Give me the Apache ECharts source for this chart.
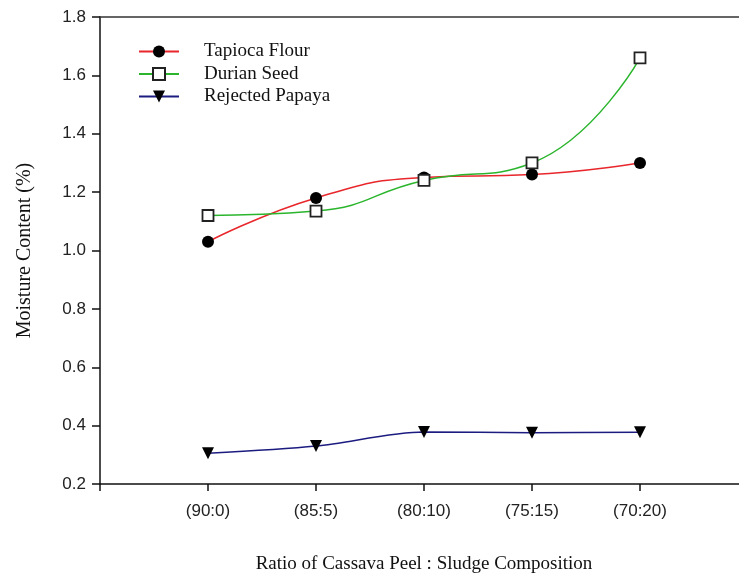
<!DOCTYPE html>
<html>
<head>
<meta charset="utf-8">
<script src="https://cdn.jsdelivr.net/npm/echarts@6/dist/echarts.min.js"></script>
<style>html,body{margin:0;padding:0;background:#fff;}#c{width:739px;height:577px;}</style>
</head>
<body>
<div id="c"></div>
<script>
const categories = ['(90:0)', '(85:5)', '(80:10)', '(75:15)', '(70:20)'];
const tapiocaFlour = [1.03, 1.18, 1.25, 1.26, 1.30];
const durianSeed = [1.12, 1.135, 1.24, 1.30, 1.66];
const rejectedPapaya = [0.305, 0.33, 0.378, 0.376, 0.377];
const yTicks = [0.2, 0.4, 0.6, 0.8, 1.0, 1.2, 1.4, 1.6, 1.8];

const toPairs = arr => arr.map((v, i) => [i + 1, v]);

const chart = echarts.init(document.getElementById('c'));
const serif = '"Liberation Serif", "Times New Roman", serif';
const sans = '"Liberation Sans", Arial, sans-serif';

chart.setOption({
  animation: false,
  backgroundColor: '#fff',
  grid: { left: 100, top: 17, right: -9, bottom: 93, containLabel: false, outerBoundsMode: 'none' },
  legend: {
    left: 133, top: 37, orient: 'vertical',
    itemWidth: 40, itemHeight: 15, itemGap: 3.5,
    textStyle: { fontFamily: serif, fontSize: 19, color: '#111', lineHeight: 15, padding: [0, 0, 0, 20] },
    data: ['Tapioca Flour', 'Durian Seed', 'Rejected Papaya']
  },
  xAxis: [{
    type: 'value', min: 0, max: 6, interval: 1,
    name: 'Ratio of Cassava Peel : Sludge Composition',
    nameLocation: 'middle', nameGap: 71,
    nameTextStyle: { fontFamily: serif, fontSize: 19, color: '#111' },
    axisLine: { show: true, onZero: false, lineStyle: { color: '#111', width: 1.5 } },
    axisTick: { show: true, inside: false, length: 7, lineStyle: { color: '#111', width: 1.5 } },
    axisLabel: {
      margin: 19, fontFamily: sans, fontSize: 17, color: '#222',
      formatter: v => (v >= 1 && v <= categories.length) ? categories[v - 1] : ''
    },
    splitLine: { show: false }
  }, {
    type: 'value', min: 0, max: 6, position: 'top',
    axisLine: { show: true, onZero: false, lineStyle: { color: '#333', width: 1.5 } },
    axisTick: { show: false }, axisLabel: { show: false }, splitLine: { show: false }
  }],
  yAxis: {
    type: 'value', min: 0.2, max: 1.8, interval: 0.2,
    name: 'Moisture Content (%)',
    nameLocation: 'middle', nameGap: 65, nameRotate: 90,
    nameTextStyle: { fontFamily: serif, fontSize: 20, color: '#111' },
    axisLine: { show: true, onZero: false, lineStyle: { color: '#111', width: 1.5 } },
    axisTick: { show: true, inside: false, length: 8, lineStyle: { color: '#111', width: 1.5 } },
    axisLabel: {
      margin: 14, fontFamily: sans, fontSize: 17, color: '#222',
      formatter: v => { const t = yTicks.find(x => Math.abs(x - v) < 1e-6); return t !== undefined ? t.toFixed(1) : ''; }
    },
    splitLine: { show: false }
  },
  series: [
    {
      name: 'Tapioca Flour', type: 'line', smooth: 0.5,
      data: toPairs(tapiocaFlour),
      symbol: 'circle', symbolSize: 12,
      lineStyle: { color: '#e8262b', width: 1.5 },
      itemStyle: { color: '#000', borderColor: '#000', borderWidth: 0 },
      z: 3
    },
    {
      name: 'Durian Seed', type: 'line', smooth: 0.5,
      data: toPairs(durianSeed),
      symbol: 'rect', symbolSize: 11,
      lineStyle: { color: '#2bb52d', width: 1.5 },
      itemStyle: { color: '#fff', borderColor: '#222', borderWidth: 1.8 },
      z: 4
    },
    {
      name: 'Rejected Papaya', type: 'line', smooth: 0.3,
      data: toPairs(rejectedPapaya),
      symbol: 'triangle', symbolRotate: 180, symbolSize: 12,
      lineStyle: { color: '#1c1c80', width: 1.5 },
      itemStyle: { color: '#000', borderColor: '#000', borderWidth: 0 },
      z: 3
    }
  ]
});
</script>
</body>
</html>
